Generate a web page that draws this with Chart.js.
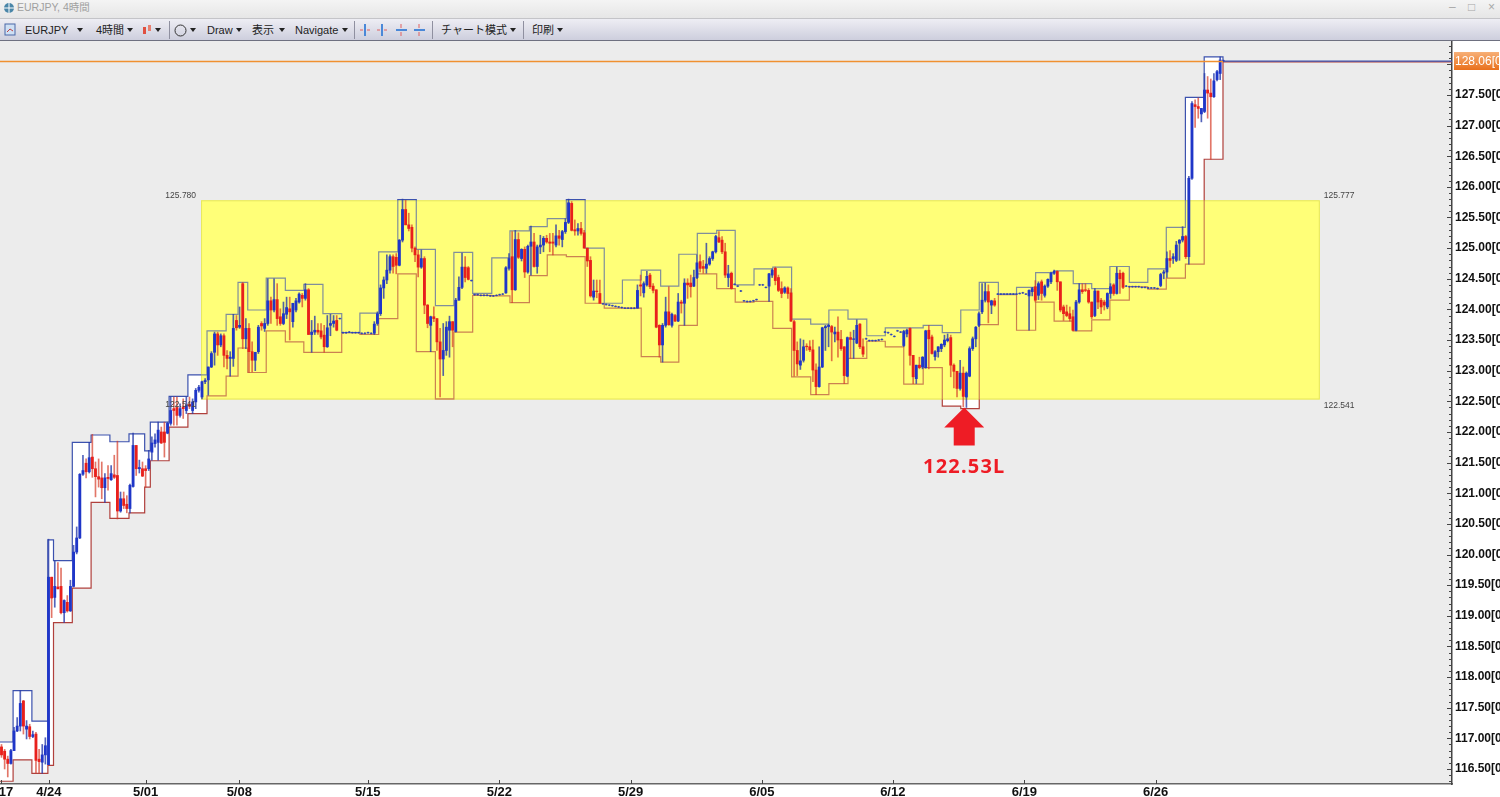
<!DOCTYPE html>
<html lang="ja">
<head>
<meta charset="utf-8">
<title>EURJPY, 4時間</title>
<script src="https://cdn.jsdelivr.net/npm/chart.js@4/dist/chart.umd.min.js"></script>
<style>
html,body{margin:0;padding:0;background:#fff;overflow:hidden;width:1500px;height:797px;}
body{position:relative;font-family:"Liberation Sans","Noto Sans CJK JP",sans-serif;}
#titlebar{position:absolute;left:0;top:0;width:1500px;height:18px;background:linear-gradient(#f4f4f4,#e6e6e6);border-bottom:1px solid #c4c4c8;}
#toolbar{position:absolute;left:0;top:19px;width:1500px;height:21px;background:linear-gradient(#eeeef4,#cdcedd);border-bottom:1px solid #6e7080;}
.t{position:absolute;white-space:nowrap;font-size:11px;color:#222;line-height:14px;}
.title{color:#a0a0a0;font-size:10.5px;}
.win{color:#a8a8a8;font-size:12px;}
.arrow{position:absolute;top:28px;width:0;height:0;border-left:3px solid transparent;border-right:3px solid transparent;border-top:4px solid #222;}
.sep{position:absolute;top:21px;width:1px;height:18px;background:#8f90a0;}
svg{position:absolute;}
canvas{position:absolute;left:-40px;top:41px;}
</style>
</head>
<body>

<div id="titlebar"></div>
<div id="toolbar"></div>

<svg style="left:3px;top:2px" width="12" height="12"><circle cx="6" cy="6" r="5" fill="#4a86a8"/><path d="M6 1V11M1 6H11" stroke="#fff"/></svg>
<span class="t title" style="left:17px;top:0px">EURJPY, 4時間</span>
<span class="t win" style="left:1449px;top:0px">–</span>
<span class="t win" style="left:1468px;top:0px">□</span>
<span class="t win" style="left:1488px;top:0px">×</span>

<svg style="left:4px;top:23px" width="12" height="13"><rect x="1" y="1" width="10" height="11" fill="#cfe0f4" stroke="#4a68a8"/><path d="M3 9L6 6L9 8" stroke="#c04040" fill="none"/></svg>
<span class="t" style="left:25px;top:23px">EURJPY</span><i class="arrow" style="left:77px"></i>
<span class="t" style="left:96px;top:23px">4時間</span><i class="arrow" style="left:127px"></i>
<svg style="left:142px;top:24px" width="11" height="12"><rect x="1" y="3" width="3" height="7" fill="#e05040"/><rect x="6" y="1" width="3" height="6" fill="#e88070"/></svg><i class="arrow" style="left:155px"></i>
<i class="sep" style="left:169px"></i>
<svg style="left:174px;top:24px" width="13" height="13"><circle cx="6.5" cy="6.5" r="5.5" fill="none" stroke="#333"/></svg><i class="arrow" style="left:190px"></i>
<span class="t" style="left:207px;top:23px">Draw</span><i class="arrow" style="left:236px"></i>
<span class="t" style="left:252px;top:23px">表示</span><i class="arrow" style="left:279px"></i>
<span class="t" style="left:295px;top:23px">Navigate</span><i class="arrow" style="left:342px"></i>
<i class="sep" style="left:354px"></i>
<svg style="left:360px;top:23px" width="66" height="14"><path d="M5 1V13M22 1V13" stroke="#4a88d8" stroke-width="2"/><path d="M0 7H3M7 7H10M17 7H20M24 7H27" stroke="#e06060"/><path d="M36 7H47M54 7H65" stroke="#4a88d8" stroke-width="2"/><path d="M41 1V5M41 9V13M59 1V5M59 9V13" stroke="#e06060"/></svg>
<i class="sep" style="left:432px"></i>
<span class="t" style="left:441px;top:23px">チャート模式</span><i class="arrow" style="left:510px"></i>
<i class="sep" style="left:523px"></i>
<span class="t" style="left:532px;top:23px">印刷</span><i class="arrow" style="left:557px"></i>

<canvas id="chart" width="1540" height="756"></canvas>

<script>
// ====================================
// DATA
// ====================================

// tick labels
const xTickBars = [-15.3,0.1,31,60.9,101.9,143.9,185.8,227.7,269.5,311.5,353.4];
const xTickLabels = ['4/17','4/24','5/01','5/08','5/15','5/22','5/29','6/05','6/12','6/19','6/26'];
const yTickPrices = [116.5,117,117.5,118,118.5,119,119.5,120,120.5,121,121.5,122,122.5,123,123.5,124,124.5,125,125.5,126,126.5,127,127.5];

// 4 hour candles, first one is bar number firstBar
const firstBar = -15;

const opens = [
116.86,116.79,116.66,116.59,116.80,117.12,117.20,117.61,117.15,117.19,
117.03,117.07,116.66,116.61,116.73,116.57,119.63,119.30,119.47,119.48,
119.05,119.22,119.08,119.48,120.04,120.27,121.31,121.49,121.35,121.59,
121.40,121.27,121.25,121.09,121.26,121.22,121.30,121.29,120.71,120.91,
120.82,120.75,121.11,121.78,121.40,121.40,121.40,121.40,121.67,121.81,
121.83,122.00,122.00,121.98,122.14,122.38,122.40,122.27,122.41,122.35,
122.45,122.35,122.49,122.68,122.57,122.82,122.85,123.06,123.30,123.60,
123.42,123.57,123.25,123.20,123.20,123.82,123.71,124.42,123.52,123.69,
123.31,123.17,123.31,123.77,123.69,123.77,124.14,123.99,124.16,123.88,
123.77,123.92,124.01,123.80,123.99,124.12,124.23,124.18,124.32,123.59,
123.63,123.66,123.65,123.58,123.39,123.74,123.77,123.82,123.85,123.62,
123.62,123.63,123.62,123.62,123.62,123.61,123.61,123.62,123.61,123.61,
123.77,123.93,124.35,124.48,124.64,124.86,124.85,124.72,125.13,125.63,
125.38,125.34,125.00,124.89,124.69,124.83,124.07,123.74,123.88,123.85,
123.47,123.19,123.33,123.66,123.80,123.64,124.15,124.36,124.69,124.68,
124.47,124.24,124.24,124.23,124.23,124.23,124.22,124.22,124.23,124.24,
124.25,124.27,124.67,124.86,124.32,125.14,124.83,124.98,124.61,125.03,
125.10,124.70,125.02,125.05,125.16,125.10,125.10,125.05,125.20,125.14,
125.27,125.42,125.73,125.30,125.28,125.32,125.25,125.00,124.80,124.20,
124.30,124.26,124.09,124.08,124.07,124.06,124.05,124.04,124.03,124.02,
124.02,124.02,124.02,124.02,124.40,124.27,124.40,124.56,124.38,124.32,
123.74,123.42,123.74,123.96,123.74,123.90,123.81,124.12,124.10,124.43,
124.43,124.38,124.52,124.78,124.70,124.67,124.74,124.83,124.94,125.17,
125.13,124.94,124.52,124.59,124.41,124.38,124.30,124.14,124.13,124.13,
124.14,124.16,124.40,124.40,124.36,124.38,124.56,124.67,124.52,124.34,
124.28,124.35,124.27,123.80,123.33,123.09,123.17,123.40,123.39,123.34,
123.01,122.74,123.06,123.70,123.72,123.72,123.60,123.63,123.51,123.39,
122.91,123.54,123.51,123.45,123.76,123.39,123.52,123.49,123.49,123.49,
123.50,123.51,123.63,123.62,123.59,123.56,123.65,123.63,123.41,123.60,
123.69,123.25,122.87,123.09,123.06,123.05,123.66,123.55,123.23,123.31,
123.36,123.42,123.49,123.54,123.09,122.99,122.71,122.96,122.57,122.91,
123.36,123.52,123.74,123.96,124.15,124.29,124.07,124.14,124.25,124.25,
124.25,124.25,124.25,124.25,124.25,124.26,124.27,124.25,124.22,124.29,
124.37,124.23,124.45,124.23,124.38,124.45,124.59,124.62,124.45,124.04,
123.96,123.93,123.88,123.66,124.12,124.32,124.32,124.31,124.12,123.90,
124.30,124.15,124.12,124.04,124.26,124.40,124.26,124.59,124.59,124.38,
124.37,124.37,124.37,124.37,124.36,124.36,124.35,124.35,124.35,124.34,
124.39,124.59,124.61,124.83,124.83,124.80,125.08,125.13,125.19,124.86,
126.14,127.34,127.31,127.19,127.23,127.58,127.53,127.47,127.75,127.85,128.06
];

const highs = [
116.90,116.82,116.71,116.82,117.18,117.34,117.78,117.62,117.29,117.23,
117.12,117.10,116.82,116.90,117.01,120.25,119.63,119.90,119.87,119.78,
119.26,119.33,119.58,120.15,120.45,121.32,121.62,121.56,121.83,121.96,
121.51,121.56,121.51,121.32,121.45,121.45,121.62,121.85,121.02,121.02,
120.96,121.15,121.98,121.78,121.54,121.51,121.45,121.70,121.92,121.97,
122.16,122.08,122.16,122.16,122.57,122.57,122.57,122.46,122.54,122.57,
122.57,122.54,122.71,122.76,122.83,122.87,123.06,123.31,123.63,123.63,
123.60,123.60,123.33,123.31,123.92,123.90,124.04,124.44,123.85,123.77,
123.47,123.30,123.74,123.80,123.85,124.50,124.20,124.50,124.42,124.01,
124.12,124.20,124.20,124.10,124.18,124.27,124.26,124.42,124.34,123.82,
123.89,123.77,123.77,123.74,123.90,123.92,123.90,123.90,123.86,123.63,
123.63,123.64,123.63,123.63,123.63,123.62,123.62,123.63,123.62,123.80,
123.96,124.40,124.53,124.89,124.89,124.89,124.91,125.14,125.80,125.78,
125.57,125.38,125.02,124.97,124.97,124.86,124.08,123.89,124.04,123.85,
123.69,123.77,123.80,123.89,123.80,124.18,124.53,124.92,124.86,124.70,
124.48,124.25,124.25,124.24,124.24,124.24,124.23,124.23,124.24,124.25,
124.26,124.70,124.91,125.27,125.29,125.25,124.99,125.02,125.05,125.36,
125.24,125.05,125.21,125.19,125.21,125.24,125.24,125.38,125.29,125.29,
125.48,125.80,125.76,125.46,125.40,125.42,125.29,125.00,124.86,124.48,
124.48,124.48,124.10,124.09,124.08,124.07,124.06,124.05,124.04,124.03,
124.03,124.03,124.03,124.40,124.56,124.45,124.62,124.59,124.42,124.32,
123.75,123.77,124.20,124.37,123.94,123.92,124.26,124.15,124.50,124.50,
124.56,124.64,124.89,124.89,124.80,125.08,124.86,124.95,125.21,125.27,
125.19,125.08,124.72,124.61,124.42,124.39,124.31,124.15,124.14,124.14,
124.15,124.17,124.41,124.41,124.37,124.59,124.66,124.69,124.56,124.45,
124.37,124.37,124.34,123.82,123.47,123.52,123.50,123.44,123.49,123.50,
123.11,123.39,123.71,123.74,123.76,123.74,123.71,123.88,123.66,123.39,
123.55,123.63,123.66,123.83,123.77,123.52,123.53,123.50,123.50,123.50,
123.51,123.52,123.64,123.63,123.60,123.57,123.66,123.64,123.66,123.68,
123.70,123.25,123.09,123.22,123.23,123.66,123.74,123.58,123.33,123.39,
123.44,123.58,123.60,123.58,123.11,122.99,123.17,123.06,122.98,123.39,
123.55,123.72,123.96,124.42,124.43,124.40,124.15,124.18,124.26,124.26,
124.26,124.26,124.26,124.26,124.26,124.27,124.28,124.26,124.32,124.36,
124.47,124.45,124.48,124.40,124.50,124.61,124.64,124.63,124.45,124.07,
124.07,124.04,123.99,124.15,124.42,124.42,124.42,124.34,124.12,124.34,
124.30,124.18,124.15,124.27,124.42,124.42,124.69,124.64,124.61,124.39,
124.38,124.38,124.38,124.38,124.37,124.37,124.36,124.36,124.36,124.35,
124.59,124.64,124.94,124.96,124.91,125.11,125.14,125.35,125.21,126.17,
127.39,127.42,127.45,127.28,127.85,127.80,127.76,127.85,127.90,128.12,128.07
];

const lows = [
116.69,116.50,116.37,116.58,116.80,117.11,117.12,117.07,116.99,116.99,
117.01,116.44,116.44,116.43,116.58,116.57,118.97,119.14,119.44,119.03,
118.89,119.06,119.07,119.47,120.01,120.26,121.29,121.25,121.33,121.26,
120.94,121.10,120.91,120.85,121.05,121.21,121.24,120.58,120.69,120.75,
120.68,120.68,121.10,121.29,121.33,121.27,121.10,121.37,121.54,121.75,
121.54,121.81,121.59,121.97,122.11,122.11,122.11,122.24,122.22,122.30,
122.38,122.30,122.38,122.65,122.54,122.79,122.60,123.05,123.09,123.25,
123.39,123.06,123.03,122.91,123.07,123.66,123.69,123.36,123.36,122.97,
122.98,123.00,123.28,123.66,123.64,123.74,123.77,123.96,123.74,123.74,
123.75,123.85,123.50,123.71,123.96,124.10,124.04,124.15,123.59,123.30,
123.59,123.59,123.52,123.30,123.38,123.57,123.71,123.65,123.84,123.61,
123.61,123.62,123.61,123.61,123.61,123.60,123.60,123.61,123.60,123.59,
123.74,123.90,124.18,124.42,124.59,124.59,124.58,124.71,125.10,125.38,
125.28,124.94,124.78,124.53,124.67,123.93,123.70,123.31,123.80,123.33,
122.57,122.92,123.25,123.22,123.39,123.63,124.15,124.34,124.45,124.48,
124.46,124.23,124.23,124.22,124.22,124.22,124.21,124.21,124.22,124.23,
124.24,124.26,124.64,124.11,124.31,124.83,124.79,124.52,124.59,124.56,
124.69,124.59,124.91,124.94,125.08,124.94,124.89,125.02,125.05,125.02,
125.24,125.40,125.28,125.21,125.21,125.21,125.00,124.70,124.20,124.15,
124.19,124.10,124.08,124.07,124.06,124.05,124.04,124.03,124.02,124.01,
124.01,124.01,124.01,124.02,124.22,124.20,124.38,124.34,124.27,123.70,
123.22,123.14,123.71,123.74,123.71,123.80,123.80,123.94,123.74,124.18,
124.20,124.37,124.50,124.61,124.59,124.59,124.72,124.80,124.92,125.09,
124.91,124.52,124.37,124.33,124.40,124.37,124.29,124.13,124.12,124.12,
124.13,124.15,124.39,124.39,124.35,124.13,124.52,124.40,124.29,124.19,
124.26,124.18,123.80,122.91,122.92,123.02,123.14,123.33,123.31,122.82,
122.61,122.73,123.05,123.33,123.39,123.16,123.47,123.22,123.33,122.79,
122.90,123.20,123.20,123.44,123.36,123.23,123.51,123.48,123.48,123.48,
123.49,123.50,123.62,123.61,123.58,123.55,123.64,123.62,123.39,123.55,
123.09,122.79,122.79,123.03,123.03,123.04,123.03,123.27,123.17,123.22,
123.31,123.39,123.47,122.90,122.72,122.57,122.68,122.41,122.40,122.90,
123.33,123.39,123.72,123.93,124.12,123.78,123.93,124.05,124.24,124.24,
124.24,124.24,124.24,124.24,124.24,124.25,124.26,124.24,123.66,124.22,
124.12,124.16,124.15,124.20,124.36,124.42,124.57,124.31,123.96,123.82,
123.88,123.81,123.65,123.65,124.10,124.26,124.29,124.10,123.85,123.88,
124.01,123.93,123.99,124.01,124.18,124.23,124.25,124.26,124.34,124.37,
124.36,124.36,124.36,124.36,124.35,124.35,124.34,124.34,124.34,124.33,
124.37,124.50,124.52,124.69,124.75,124.78,124.80,125.10,124.83,124.74,
126.12,126.97,127.12,127.06,127.21,127.12,126.45,127.46,127.73,127.75,128.05
];

const closes = [
116.73,116.66,116.59,116.80,117.12,117.20,117.57,117.20,117.20,117.03,
117.06,116.64,116.62,116.73,116.88,119.63,119.29,119.48,119.44,119.05,
119.25,119.08,119.48,120.04,120.27,121.31,121.37,121.35,121.58,121.40,
121.27,121.23,121.09,121.25,121.24,121.32,121.26,120.71,120.91,120.80,
120.75,121.13,121.78,121.40,121.42,121.28,121.37,121.56,121.82,121.87,
122.03,121.82,121.83,122.14,122.35,122.35,122.27,122.38,122.38,122.43,
122.42,122.49,122.68,122.73,122.82,122.84,123.06,123.28,123.60,123.42,
123.57,123.25,123.20,123.22,123.69,123.70,123.74,123.52,123.69,123.31,
123.17,123.30,123.71,123.73,123.77,124.14,123.99,124.16,123.85,123.77,
123.93,124.03,123.96,124.10,124.14,124.25,124.18,124.32,123.59,123.63,
123.66,123.63,123.55,123.39,123.70,123.77,123.81,123.66,123.85,123.62,
123.62,123.63,123.62,123.62,123.62,123.61,123.61,123.62,123.61,123.76,
123.93,124.35,124.48,124.64,124.86,124.70,124.72,125.13,125.63,125.38,
125.32,125.00,124.89,124.69,124.83,124.07,123.77,123.88,123.85,123.47,
123.19,123.33,123.71,123.80,123.66,124.15,124.36,124.69,124.52,124.49,
124.47,124.24,124.24,124.23,124.23,124.23,124.22,124.22,124.23,124.24,
124.25,124.68,124.83,124.32,125.14,124.85,124.98,124.61,125.03,125.10,
124.70,125.02,125.05,125.16,125.10,125.08,125.08,125.20,125.16,125.27,
125.42,125.74,125.29,125.28,125.32,125.24,125.00,124.79,124.22,124.30,
124.29,124.10,124.09,124.08,124.07,124.06,124.05,124.04,124.03,124.02,
124.02,124.02,124.02,124.31,124.38,124.42,124.54,124.37,124.31,123.71,
123.42,123.74,123.96,123.75,123.92,123.81,124.12,124.10,124.43,124.40,
124.37,124.52,124.76,124.67,124.67,124.74,124.83,124.94,125.19,125.10,
124.94,124.56,124.58,124.34,124.41,124.38,124.30,124.14,124.13,124.13,
124.14,124.16,124.40,124.40,124.36,124.58,124.64,124.47,124.31,124.26,
124.35,124.26,123.81,123.33,123.11,123.16,123.39,123.39,123.34,123.01,
122.74,123.06,123.70,123.72,123.74,123.63,123.63,123.50,123.36,122.92,
123.54,123.51,123.52,123.74,123.39,123.27,123.52,123.49,123.49,123.49,
123.50,123.51,123.63,123.62,123.59,123.56,123.65,123.63,123.64,123.66,
123.25,122.90,123.09,123.05,123.22,123.65,123.52,123.28,123.31,123.39,
123.43,123.50,123.52,123.09,122.99,122.71,122.96,122.58,122.96,123.36,
123.52,123.71,123.93,124.15,124.29,124.12,124.14,124.07,124.25,124.25,
124.25,124.25,124.25,124.25,124.25,124.26,124.27,124.25,124.31,124.34,
124.15,124.42,124.26,124.38,124.49,124.59,124.62,124.45,123.99,123.93,
123.90,123.85,123.66,124.12,124.32,124.29,124.31,124.12,123.88,124.30,
124.12,124.04,124.07,124.26,124.37,124.26,124.59,124.50,124.36,124.38,
124.37,124.37,124.37,124.37,124.36,124.36,124.35,124.35,124.35,124.34,
124.57,124.61,124.83,124.80,124.86,125.05,125.13,125.19,124.86,126.14,
127.36,127.31,127.28,127.28,127.58,127.53,127.47,127.73,127.88,128.07,128.06
];

// daily high / low channel, each value holds from its bar until the next one
const stepBars = [
-15.5,-11.3,-5.3,-0.2,1.6,7.6,13.6,19.6,25.7,30.7,
32.5,38.5,44.5,50.6,56.7,60.5,63.6,69.5,75.6,81.5,
87.6,93.6,99.4,105.4,111.5,117.4,123.5,129.4,135.4,141.5,
147.3,153.5,159.2,165.3,171.3,177.4,183.2,189.2,195.4,201.2,
207.1,213.3,219.2,225.2,231.2,237.2,243.3,249.1,255.2,261.2,
267.1,273.0,279.2,285.3,291.2,297.1,303.2,309,315.1,321,
327.1,333,338.8,345,350.9,356.8,362.9,368.9,374.9,448
];

const upperBand = [
116.94,117.78,117.28,120.24,119.90,121.83,121.95,121.84,121.97,121.69,
122.16,122.58,122.93,123.65,123.92,124.44,123.99,124.51,124.31,124.41,
123.93,123.62,123.94,124.94,125.79,124.98,124.06,124.93,124.26,124.84,
125.28,125.35,125.48,125.79,125.00,124.10,124.48,124.64,124.38,124.90,
125.24,125.29,124.40,124.66,124.69,123.84,123.76,123.99,123.84,123.57,
123.70,123.70,123.74,123.62,123.99,124.44,124.25,124.36,124.60,124.63,
124.42,124.34,124.70,124.44,124.66,125.34,127.46,128.12,128.05,128.05
];

const lowerBand = [
116.30,116.65,116.43,116.56,118.89,119.45,120.85,120.59,120.68,121.10,
121.53,122.08,122.30,122.59,122.91,123.37,122.97,123.65,123.47,123.30,
123.30,123.62,123.59,123.85,124.58,123.31,122.54,123.63,124.23,124.22,
124.11,124.55,124.89,124.86,124.10,124.02,124.02,123.23,123.14,123.74,
124.58,124.34,124.12,124.13,123.69,122.90,122.61,122.79,123.20,123.48,
123.39,122.78,123.05,122.42,122.38,123.75,124.24,123.66,124.12,123.81,
123.65,123.83,124.15,124.37,124.33,124.51,124.74,126.45,128.04,128.04
];

// range box and labels
const rangeBars = [48.7,405.8];
const rangePrices = [125.78,122.53];
const rangeLabels = ['125.780','125.777','122.541','122.541'];
const lastPrice = 128.06;
const lowBar = 292.3;
const lowPrice = 122.40;
const lowLabel = '122.53L';

// ====================================
// SCALE RANGE
// ====================================

const xMin = -15.48;
const xMax = 448;
const yMin = 116.255;
const yMax = 128.38;

// ====================================
// DATASETS
// ====================================

const barNumbers = closes.map((c,i)=>firstBar+i);

const candleBlue = '#1f36c8';
const candleRed = '#e8201c';
const wickBlue = 'rgba(40,60,170,.8)';
const wickRed = 'rgba(214,60,40,.7)';

const isUp = i => closes[i] >= opens[i];

const upperPoints = stepBars.map((b,i)=>({x:b,y:upperBand[i]}));
const lowerPoints = stepBars.map((b,i)=>({x:b,y:lowerBand[i]}));

const FILL = 0, LOWER = 1, UPPER = 2;

const datasets = [
    {
        type:'line', data:upperPoints, stepped:true, pointRadius:0,
        borderWidth:0, borderColor:'transparent',
        fill:{target:LOWER}, backgroundColor:'#ffffff', order:9
    },
    {
        type:'line', data:lowerPoints, stepped:true, pointRadius:0,
        borderWidth:1.2, borderColor:'#b0403c', fill:false, order:8
    },
    {
        type:'line', data:upperPoints, stepped:true, pointRadius:0,
        borderWidth:1.2, borderColor:'#3c52ae', fill:false, order:7
    },
    {
        type:'bar', grouped:false, barThickness:1, order:2,
        data:barNumbers.map((b,i)=>({x:b,y:[lows[i],highs[i]]})),
        backgroundColor:ctx=>isUp(ctx.dataIndex)?wickBlue:wickRed
    },
    {
        type:'bar', grouped:false, barThickness:2.2, order:1,
        data:barNumbers.map((b,i)=>({x:b,y:[opens[i],closes[i]]})),
        backgroundColor:ctx=>isUp(ctx.dataIndex)?candleBlue:candleRed
    }
];

// ====================================
// DRAWING ON TOP OF THE SCALES
// ====================================

function drawRange(chart,color){
    const {x,y} = chart.scales;
    const left = x.getPixelForValue(rangeBars[0]);
    const right = x.getPixelForValue(rangeBars[1]);
    const top = y.getPixelForValue(rangePrices[0]);
    const bottom = y.getPixelForValue(rangePrices[1]);
    chart.ctx.fillStyle = color;
    chart.ctx.fillRect(left,top,right-left,bottom-top);
    return {left,right,top,bottom};
}

const stockPlugin = {
    id:'stockPlugin',

    beforeDraw(chart){
        const a = chart.chartArea;
        chart.ctx.fillStyle = '#ececec';
        chart.ctx.fillRect(a.left,a.top,a.right-a.left,a.bottom-a.top);
    },

    afterDatasetDraw(chart,args){
        if(args.index === FILL){
            const r = drawRange(chart,'#ffff78');
            chart.ctx.strokeStyle = '#dcdc50';
            chart.ctx.lineWidth = 1;
            chart.ctx.strokeRect(r.left+.5,r.top+.5,r.right-r.left-1,r.bottom-r.top-1);
        }
        if(args.index === UPPER){
            // channel lines look washed out under the box
            drawRange(chart,'rgba(255,255,120,.35)');
        }
    },

    afterDatasetsDraw(chart){
        const ctx = chart.ctx;
        const {x,y} = chart.scales;
        const a = chart.chartArea;

        ctx.save();

        // last price line
        const lastY = Math.round(y.getPixelForValue(lastPrice))+.5;
        ctx.strokeStyle = '#f09030';
        ctx.lineWidth = 1.3;
        ctx.beginPath();
        ctx.moveTo(a.left,lastY);
        ctx.lineTo(x.getPixelForValue(stepBars[stepBars.length-2]),lastY);
        ctx.stroke();

        // price axis ticks, every 0.1
        ctx.strokeStyle = '#444';
        ctx.lineWidth = 1;
        for(let k=Math.ceil(yMin*10);k<=Math.floor(yMax*10);k++){
            const py = Math.round(y.getPixelForValue(k/10))+.5;
            const len = k%5===0 ? 5 : 3;
            ctx.beginPath();
            ctx.moveTo(a.right-len,py);
            ctx.lineTo(a.right,py);
            ctx.stroke();
        }

        // date axis ticks
        xTickBars.forEach(b=>{
            const px = Math.round(x.getPixelForValue(b))+.5;
            ctx.beginPath();
            ctx.moveTo(px,a.bottom-4);
            ctx.lineTo(px,a.bottom);
            ctx.stroke();
        });

        // range labels
        const leftX = x.getPixelForValue(rangeBars[0]);
        const rightX = x.getPixelForValue(rangeBars[1]);
        const topY = y.getPixelForValue(rangePrices[0]);
        const bottomY = y.getPixelForValue(rangePrices[1]);
        ctx.font = '8.5px "Liberation Sans"';
        ctx.fillStyle = '#444';
        ctx.textBaseline = 'alphabetic';
        ctx.textAlign = 'right';
        ctx.fillText(rangeLabels[0],leftX-5,topY-2);
        ctx.fillText(rangeLabels[3],leftX-5,bottomY+8);
        ctx.textAlign = 'left';
        ctx.fillText(rangeLabels[1],rightX+4,topY-2);
        ctx.fillText(rangeLabels[2],rightX+4,bottomY+9);

        // red arrow to the low
        const tipX = x.getPixelForValue(lowBar);
        const tipY = y.getPixelForValue(lowPrice);
        ctx.fillStyle = '#ee1c25';
        ctx.beginPath();
        ctx.moveTo(tipX,tipY);
        ctx.lineTo(tipX+20,tipY+20);
        ctx.lineTo(tipX+10.5,tipY+20);
        ctx.lineTo(tipX+10.5,tipY+38);
        ctx.lineTo(tipX-10.5,tipY+38);
        ctx.lineTo(tipX-10.5,tipY+20);
        ctx.lineTo(tipX-20,tipY+20);
        ctx.closePath();
        ctx.fill();

        ctx.font = 'bold 20px "Noto Sans","Liberation Sans"';
        ctx.letterSpacing = '1.2px';
        ctx.textAlign = 'center';
        ctx.fillText(lowLabel,tipX,tipY+66);
        ctx.letterSpacing = '0px';

        // last price tag on the axis
        const tagLeft = a.right+2;
        const tagTop = lastY-9.5;
        const grad = ctx.createLinearGradient(0,tagTop,0,tagTop+18);
        grad.addColorStop(0,'#f7b077');
        grad.addColorStop(1,'#e9701c');
        ctx.fillStyle = grad;
        ctx.fillRect(tagLeft,tagTop,45,18);
        ctx.beginPath();
        ctx.rect(tagLeft,tagTop,45,18);
        ctx.clip();
        ctx.fillStyle = '#fff';
        ctx.font = '12px "Liberation Sans"';
        ctx.textAlign = 'left';
        ctx.textBaseline = 'middle';
        ctx.fillText(lastPrice.toFixed(2)+'[0',tagLeft+1,tagTop+9.5);

        ctx.restore();
    }
};

// ====================================
// CHART
// ====================================

new Chart(document.getElementById('chart'),{
    data:{datasets},
    plugins:[stockPlugin],
    options:{
        responsive:false,
        animation:false,
        events:[],
        layout:{padding:{left:40,right:0,top:0,bottom:0}},
        plugins:{
            legend:{display:false},
            tooltip:{enabled:false}
        },
        scales:{
            x:{
                type:'linear',
                position:'bottom',
                min:xMin,
                max:xMax,
                offset:false,
                grid:{display:false,drawTicks:false},
                border:{color:'#666',width:1.5},
                afterBuildTicks(scale){
                    scale.ticks = xTickBars.map(v=>({value:v}));
                },
                afterFit(scale){
                    scale.height = 13;
                    scale.paddingLeft = 0;
                    scale.paddingRight = 0;
                },
                ticks:{
                    autoSkip:false,
                    maxRotation:0,
                    minRotation:0,
                    padding:1,
                    color:'#111',
                    font:{family:'"Liberation Sans"',size:13,weight:'bold'},
                    callback:(value,index)=>xTickLabels[index]
                }
            },
            y:{
                type:'linear',
                position:'right',
                min:yMin,
                max:yMax,
                grid:{display:false,drawTicks:false},
                border:{color:'#444',width:1.5},
                afterBuildTicks(scale){
                    scale.ticks = yTickPrices.map(v=>({value:v}));
                },
                afterFit(scale){
                    scale.width = 48;
                    scale.paddingTop = 0;
                    scale.paddingBottom = 0;
                },
                ticks:{
                    autoSkip:false,
                    padding:3,
                    mirror:false,
                    crossAlign:'near',
                    color:'#111',
                    font:{family:'"Liberation Sans"',size:12,weight:'bold'},
                    callback:value=>value.toFixed(2)+'[0'
                }
            }
        }
    }
});
</script>
</body>
</html>
